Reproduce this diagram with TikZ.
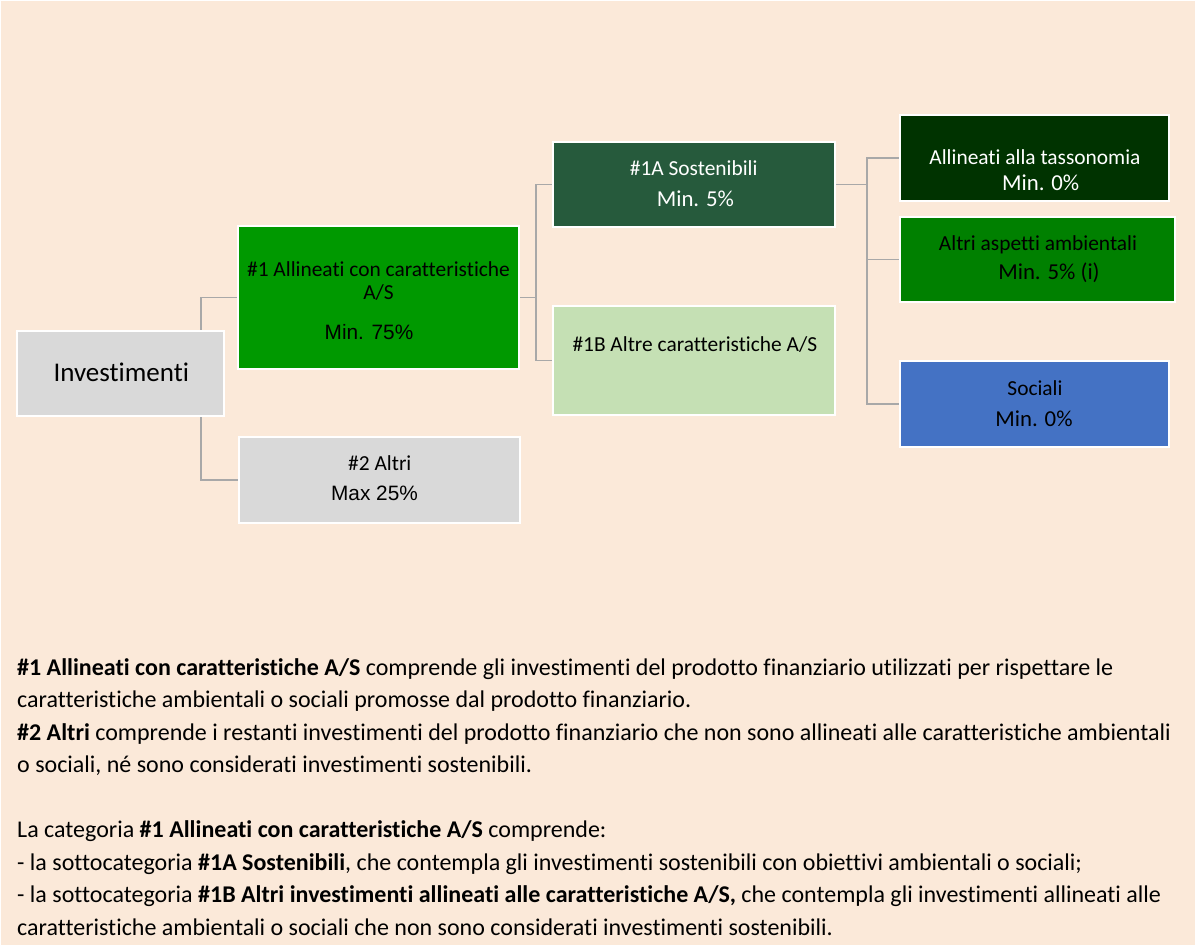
\documentclass[tikz,border=0pt]{standalone}
\usepackage{fontspec}
\setmainfont[Ligatures={NoCommon}]{Carlito}
\newfontfamily\arialf{Liberation Sans}
\usetikzlibrary{calc}
\definecolor{bgpeach}{HTML}{FBE9D9}
\definecolor{boxgray}{HTML}{D9D9D9}
\definecolor{greenA}{HTML}{009900}
\definecolor{greenDark}{HTML}{265A3C}
\definecolor{greenLight}{HTML}{C5E0B4}
\definecolor{greenTax}{HTML}{003300}
\definecolor{greenEnv}{HTML}{008000}
\definecolor{blueSoc}{HTML}{4472C4}
\definecolor{connGray}{HTML}{A8A8A8}
\newcommand\fsz[1]{\fontsize{#1bp}{#1bp}\selectfont}
\pgfdeclarelayer{bglayer}
\pgfdeclarelayer{connlayer}
\pgfsetlayers{bglayer,connlayer,main}
\begin{document}
\begin{tikzpicture}[x=1bp,y=-1bp,
  box/.style n args={2}{draw=white, line width=2bp, inner sep=0pt,
    minimum width=#1bp, minimum height=#2bp},
  txt/.style={inner sep=0pt, anchor=base, font=\fsz{21.4}},
  txtb/.style={inner sep=0pt, anchor=base, font=\fsz{22.8}},
  txta/.style={inner sep=0pt, anchor=base, font=\arialf\fsz{20.8}},
  body/.style={inner sep=0pt, anchor=base west, font=\fsz{24}},
  conn/.style={draw=connGray, line width=1.5bp}]
\useasboundingbox (0,0) rectangle (1196,946);
\begin{pgfonlayer}{bglayer}
  \fill[white] (0,0) rectangle (1196,946);
  \fill[bgpeach] (1,1) rectangle (1195,945);
\end{pgfonlayer}

% boxes
\node[box={207}{85}, fill=boxgray] (inv) at (120.5,373.5) {};
\node[box={281}{143}, fill=greenA] (n1) at (378.5,297.5) {};
\node[box={281}{86}, fill=boxgray] (n2) at (379.5,480) {};
\node[box={282}{85}, fill=greenDark] (n1a) at (694,184.5) {};
\node[box={282}{109}, fill=greenLight] (n1b) at (694,360.5) {};
\node[box={269}{86}, fill=greenTax] (tax) at (1034.5,158) {};
\node[box={275}{85}, fill=greenEnv] (alt) at (1037.5,259.5) {};
\node[box={269}{86}, fill=blueSoc] (soc) at (1034.5,404) {};

% box texts
\node[txt, font=\fsz{27}] (invt) at (121.3,381.7) {Investimenti};
\node[txt] (n1t1) at (378.5,276) {\#1 Allineati con caratteristiche};
\node[txt] (n1t2) at (378.5,299.3) {A/S};
\node[txta] (n1t3) at (369,339) {Min. 75\%};
\node[txt] (n2t1) at (379.8,470) {\#2 Altri};
\node[txta] (n2t2) at (374.5,500) {Max 25\%};
\node[txt, text=white] (n1at1) at (693.7,175) {\#1A Sostenibili};
\node[txtb, text=white] (n1at2) at (695.4,206.7) {Min. 5\%};
\node[txt] (n1bt1) at (694.8,351.7) {\#1B Altre caratteristiche A/S};
\node[txt, text=white] (taxt1) at (1035,164.3) {Allineati alla tassonomia};
\node[txtb, text=white] (taxt2) at (1040.7,190.7) {Min. 0\%};
\node[txt] (altt1) at (1038,250) {Altri aspetti ambientali};
\node[txtb] (altt2) at (1049,279) {Min. 5\% (i)};
\node[txt] (soct1) at (1035,395.7) {Sociali};
\node[txtb] (soct2) at (1034,426.7) {Min. 0\%};

% connectors
\begin{pgfonlayer}{connlayer}
  \draw[conn] ([xshift=80.5bp]inv.north) |- (n1.west);
  \draw[conn] ([xshift=80.5bp]inv.south) |- (n2.west);
  \draw[conn] (n1.east) -- ++(16,0) coordinate (j1) |- (n1a.west);
  \draw[conn] (j1) |- (n1b.west);
  \draw[conn] (n1a.east) -- ++(31,0) coordinate (j2) |- (tax.west);
  \draw[conn] (j2) |- (alt.west);
  \draw[conn] (j2) |- (soc.west);
\end{pgfonlayer}

% body text
\node[body] (b1) at (17,675) {\textbf{\#1 Allineati con caratteristiche A/S} comprende gli investimenti del prodotto finanziario utilizzati per rispettare le};
\node[body] (b2) at (17,707.5) {caratteristiche ambientali o sociali promosse dal prodotto finanziario.};
\node[body] (b3) at (17,740) {\textbf{\#2 Altri} comprende i restanti investimenti del prodotto finanziario che non sono allineati alle caratteristiche ambientali};
\node[body] (b4) at (17,772.5) {o sociali, né sono considerati investimenti sostenibili.};
\node[body] (b5) at (17,837.5) {La categoria \textbf{\#1 Allineati con caratteristiche A/S} comprende:};
\node[body] (b6) at (17,870) {- la sottocategoria \textbf{\#1A Sostenibili}, che contempla gli investimenti sostenibili con obiettivi ambientali o sociali;};
\node[body] (b7) at (17,902.5) {- la sottocategoria \textbf{\#1B Altri investimenti allineati alle caratteristiche A/S,} che contempla gli investimenti allineati alle};
\node[body] (b8) at (17,935) {caratteristiche ambientali o sociali che non sono considerati investimenti sostenibili.};
\end{tikzpicture}
\end{document}
